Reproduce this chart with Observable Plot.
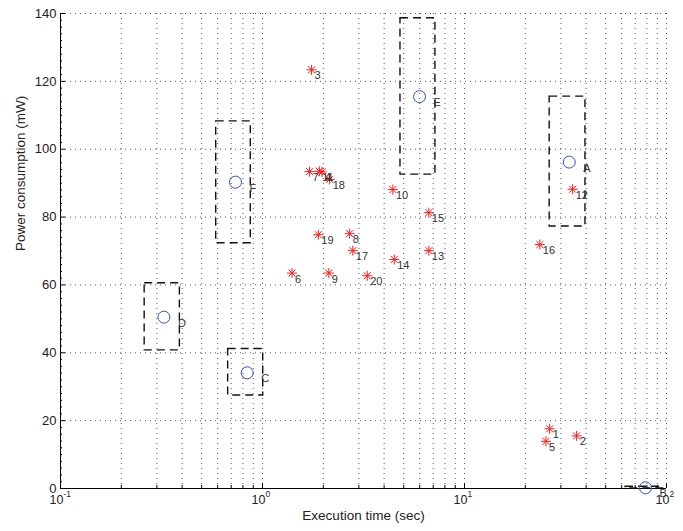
<!DOCTYPE html>
<html>
<head>
<meta charset="utf-8">
<script src="https://cdn.jsdelivr.net/npm/d3@7"></script>
<script src="https://cdn.jsdelivr.net/npm/@observablehq/plot@0.6"></script>
<style>
  body { margin: 0; background: #fff; }
</style>
</head>
<body>
<div id="chart"></div>
<script>
// ---- data ----
const starIds   = ["1","2","3","4","5","6","7","8","9","10","11","12","13","14","15","16","17","18","19","20"];
const starTime  = [26.4, 35.9, 1.75, 1.97, 25.3, 1.40, 1.71, 2.70, 2.13, 4.42, 1.91, 34.3, 6.66, 4.49, 6.66, 23.6, 2.80, 2.15, 1.89, 3.30];
const starPower = [17.6, 15.5, 123.4, 93.3, 13.9, 63.5, 93.4, 75.1, 63.5, 88.1, 93.5, 88.2, 70.1, 67.5, 81.3, 71.9, 70.1, 91.1, 74.8, 62.7];

const cfgIds   = ["A", "B", "C", "D", "E", "F"];
const cfgTime  = [33.0, 78.7, 0.840, 0.325, 5.99, 0.735];
const cfgPower = [96.2, 0.2, 34.1, 50.5, 115.5, 90.3];

const boxTimeLo  = [26.4, 62.7, 0.676, 0.261, 4.82, 0.590];
const boxTimeHi  = [39.7, 96.4, 1.008, 0.390, 7.18, 0.875];
const boxPowerLo = [77.2, 0.0, 27.4, 40.7, 92.5, 72.3];
const boxPowerHi = [115.5, 0.5, 41.1, 60.5, 138.6, 108.2];

const xTicks    = [0.1, 1, 10, 100];
const xTickBase = ["10", "10", "10", "10"];
const xTickExp  = ["-1", "0", "1", "2"];
const yTicks    = [0, 20, 40, 60, 80, 100, 120, 140];

const xLabel = "Execution time (sec)";
const yLabel = "Power consumption (mW)";

// ---- derived tables ----
const stars = starIds.map((id, i) => ({id, time: starTime[i], power: starPower[i]}));
const cfgs  = cfgIds.map((id, i) => ({id, time: cfgTime[i], power: cfgPower[i]}));
const boxes = cfgIds.map((id, i) => ({id, x1: boxTimeLo[i], x2: boxTimeHi[i], y1: boxPowerLo[i], y2: boxPowerHi[i]}));
const xTickRows = xTicks.map((v, i) => ({v, base: xTickBase[i], exp: xTickExp[i]}));

// minor log positions (2..9 of each decade) and y minor ticks
const xMinor = [];
for (const dec of [0.1, 1, 10]) for (let k = 2; k <= 9; k++) xMinor.push(+(dec * k).toPrecision(3));
const yMinor = d3.range(0, 141, 2).filter(v => v % 20 !== 0);

const W = 683, H = 531, ML = 60, MR = 17, MT = 13, MB = 43;
const frameW = W - ML - MR, frameH = H - MT - MB;

// MATLAB-like 8-arm asterisk
const asterisk8 = {
  draw(ctx, size) {
    const r = Math.sqrt(size / Math.PI);
    const d = r * Math.SQRT1_2;
    ctx.moveTo(-r, 0); ctx.lineTo(r, 0);
    ctx.moveTo(0, -r); ctx.lineTo(0, r);
    ctx.moveTo(-d, -d); ctx.lineTo(d, d);
    ctx.moveTo(-d, d); ctx.lineTo(d, -d);
  }
};

const gridStyle = {stroke: "#555", strokeWidth: 1, strokeDasharray: "1,4"};

const chart = Plot.plot({
  width: W,
  height: H,
  marginLeft: ML,
  marginRight: MR,
  marginTop: MT,
  marginBottom: MB,
  style: {fontFamily: "'Liberation Sans', Arial, sans-serif", background: "#fff", color: "#222"},
  x: {type: "log", domain: [0.1, 100], axis: null},
  y: {domain: [0, 140], axis: null},
  marks: [
    // dotted grid
    Plot.ruleX([...xMinor, ...xTicks.slice(1)], {...gridStyle}),
    Plot.ruleY(yTicks.slice(1), {...gridStyle}),
    // axis lines
    Plot.ruleX([0.1], {stroke: "#000", strokeWidth: 1}),
    Plot.ruleY([0], {stroke: "#000", strokeWidth: 1}),
    // inward ticks
    Plot.ruleX(xTicks, {stroke: "#000", insetTop: frameH - 5}),
    Plot.ruleX(xMinor, {stroke: "#000", insetTop: frameH - 3}),
    Plot.ruleY(yTicks, {stroke: "#000", insetRight: frameW - 5}),
    Plot.ruleY(yMinor, {stroke: "#000", insetRight: frameW - 2}),
    // tick labels
    Plot.axisY({ticks: yTicks, tickSize: 0, tickPadding: 4, fontSize: 13, label: null, tickFormat: d => String(d)}),
    Plot.text(xTickRows, {x: "v", frameAnchor: "bottom", text: "base", dx: -4, dy: 15, fontSize: 12.5, fill: "#222"}),
    Plot.text(xTickRows, {x: "v", frameAnchor: "bottom", text: "exp", textAnchor: "start", dx: 3, dy: 8, fontSize: 8.5, fill: "#222"}),
    // axis titles
    Plot.text([xLabel], {frameAnchor: "bottom", dy: 31, fontSize: 13.5, fill: "#222"}),
    Plot.text([yLabel], {frameAnchor: "left", dx: -40, rotate: -90, fontSize: 13.5, fill: "#222"}),
    // dashed boxes
    Plot.rect(boxes, {x1: "x1", x2: "x2", y1: "y1", y2: "y2", fill: "none", stroke: "#111", strokeWidth: 1.4, strokeDasharray: "8,5"}),
    // configurations (circles)
    Plot.dot(cfgs, {x: "time", y: "power", r: 6, fill: "none", stroke: "#2f4fd0", strokeWidth: 1}),
    Plot.text(cfgs, {x: "time", y: "power", text: "id", textAnchor: "start", dx: 14, dy: 6, fontSize: 11, fill: "#333"}),
    // individual runs (asterisks)
    Plot.dot(stars, {x: "time", y: "power", r: 5, symbol: asterisk8, fill: "none", stroke: "#ff1a1a", strokeWidth: 1}),
    Plot.text(stars, {x: "time", y: "power", text: "id", textAnchor: "start", dx: 3, dy: 6, fontSize: 11, fill: "#333"})
  ]
});

document.getElementById("chart").appendChild(chart);
</script>
</body>
</html>
